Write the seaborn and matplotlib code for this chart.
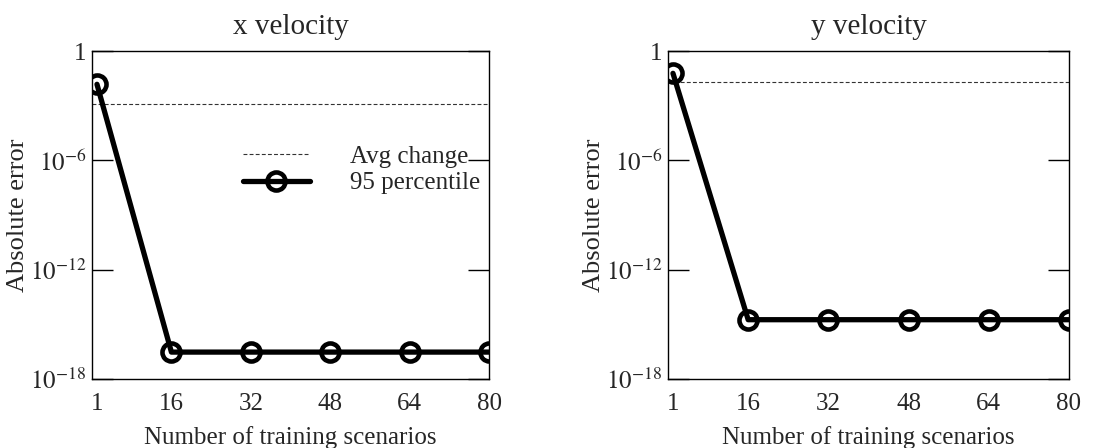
import matplotlib
matplotlib.use("Agg")
import matplotlib.pyplot as plt
import seaborn as sns
import pandas as pd

sns.set_theme(style="ticks")
plt.rcParams["font.family"] = ["Liberation Serif", "DejaVu Serif"]
plt.rcParams["mathtext.fontset"] = "stix"

# data
scenarios = [1, 16, 32, 48, 64, 80]
x_p95 = [1.5e-2, 3e-17, 3e-17, 3e-17, 3e-17, 3e-17]
y_p95 = [6e-2, 1.8e-15, 1.8e-15, 1.8e-15, 1.8e-15, 1.8e-15]
x_avg_change = 1.2e-3
y_avg_change = 2.1e-2

titles = ["x velocity", "y velocity"]
p95_series = [x_p95, y_p95]
avg_changes = [x_avg_change, y_avg_change]

ytick_vals = [1e-18, 1e-12, 1e-6, 1]
ytick_labels = [r"$10^{-18}$", r"$10^{-12}$", r"$10^{-6}$", "1"]

fig = plt.figure(figsize=(11.14, 4.48), dpi=100)
axes = [fig.add_axes([0.0826, 0.154, 0.3564, 0.732]),
        fig.add_axes([0.5996, 0.154, 0.36, 0.732])]

for i, ax in enumerate(axes):
    df = pd.DataFrame({"scenarios": scenarios, "err": p95_series[i]})
    ax.axhline(avg_changes[i], color="#333333", lw=0.8, ls=(0, (3.5, 2)), label="Avg change")
    sns.lineplot(data=df, x="scenarios", y="err", ax=ax, color="black", lw=3.8,
                 marker="o", markersize=13, markerfacecolor="none",
                 markeredgecolor="black", markeredgewidth=3.3, label="95 percentile")
    ax.set_yscale("log")
    ax.set_xlim(0, 80)
    ax.set_ylim(1e-18, 1)
    ax.set_xticks(scenarios)
    ax.set_yticks(ytick_vals)
    ax.set_yticklabels(ytick_labels)
    ax.minorticks_off()
    ax.tick_params(axis="y", direction="in", length=15, width=1, left=True, right=True,
                   labelsize=18, pad=4, color="black")
    ax.tick_params(axis="x", length=0, labelsize=18, pad=10)
    for s in ax.spines.values():
        s.set_color("black")
        s.set_linewidth(1)
    ax.set_title(titles[i], fontsize=21, pad=12)
    ax.set_xlabel("Number of training scenarios", fontsize=18, labelpad=8)
    ax.set_ylabel("Absolute error", fontsize=19, labelpad=1)
    if i == 0:
        ax.legend(loc="upper right", bbox_to_anchor=(1.035, 0.78), frameon=False,
                  fontsize=18, handlelength=2.7, handletextpad=1.6, labelspacing=0.15)
    else:
        leg = ax.get_legend()
        if leg:
            leg.remove()

fig.savefig("out.png", dpi=100)
